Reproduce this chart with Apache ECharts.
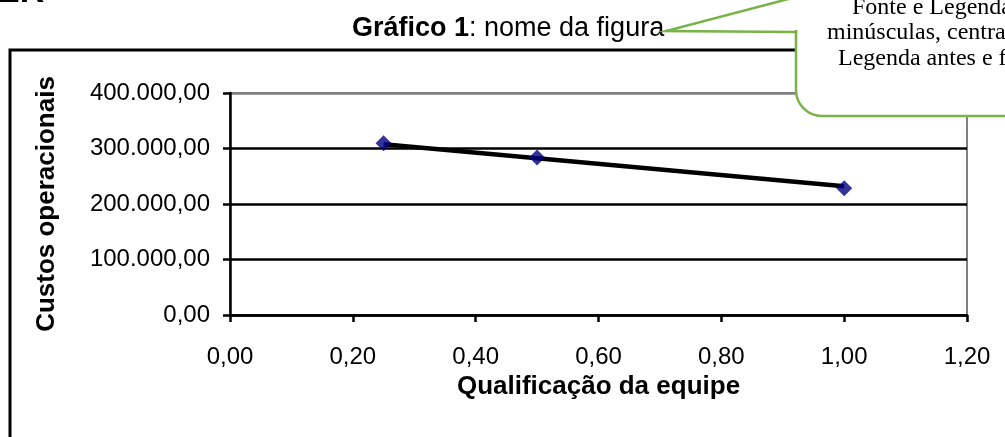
<!DOCTYPE html>
<html>
<head>
<meta charset="utf-8">
<script src="https://cdn.jsdelivr.net/npm/echarts@6/dist/echarts.min.js"></script>
<style>
html,body{margin:0;padding:0;background:#fff;}
#c{width:1005px;height:437px;}
</style>
</head>
<body>
<div id="c"></div>
<script>
// Data
const qualificacao = [0.25, 0.50, 1.00];
const custos = [309500, 284000, 228500];
const trendX = [0.25, 1.00];
const trendY = [307500, 232000];
const xTickLabels = ['0,00', '0,20', '0,40', '0,60', '0,80', '1,00', '1,20'];
const yTickLabels = ['0,00', '100.000,00', '200.000,00', '300.000,00', '400.000,00'];
const titleBold = 'Gráfico 1';
const titleRest = ': nome da figura';
const xTitle = 'Qualificação da equipe';
const yTitle = 'Custos operacionais';
const calloutLines = ['Fonte e Legenda', 'minúsculas, centra', 'Legenda antes e f'];

const FONT = '"Liberation Sans", Arial, sans-serif';
const SERIF = '"Liberation Serif", "Times New Roman", serif';
const GREEN = '#77b347';

const chart = echarts.init(document.getElementById('c'), null, {renderer: 'canvas'});
chart.setOption({
  animation: false,
  backgroundColor: '#fff',
  grid: {
    left: 230, right: 38, top: 93, bottom: 122,
    show: true, borderColor: '#808080', borderWidth: 2, backgroundColor: 'transparent'
  },
  xAxis: {
    type: 'value', min: 0, max: 1.2, interval: 0.2,
    name: xTitle, nameLocation: 'middle', nameGap: 48,
    nameTextStyle: {fontFamily: FONT, fontSize: 26, fontWeight: 'bold', color: '#000'},
    axisLine: {show: true, onZero: false, lineStyle: {color: '#000', width: 2.5}},
    axisTick: {show: true, length: 7, lineStyle: {color: '#000', width: 2.5}},
    axisLabel: {
      margin: 30, fontFamily: FONT, fontSize: 24, color: '#000',
      formatter: v => xTickLabels[Math.round(v / 0.2)]
    },
    splitLine: {show: false}
  },
  yAxis: {
    type: 'value', min: 0, max: 400000, interval: 100000,
    name: yTitle, nameLocation: 'middle', nameRotate: 90, nameGap: 170,
    nameTextStyle: {fontFamily: FONT, fontSize: 26, fontWeight: 'bold', color: '#000'},
    axisLine: {show: true, onZero: false, lineStyle: {color: '#000', width: 2.5}},
    axisTick: {show: true, length: 7, lineStyle: {color: '#000', width: 2.5}},
    axisLabel: {
      margin: 20, fontFamily: FONT, fontSize: 24, color: '#000',
      formatter: v => yTickLabels[Math.round(v / 100000)]
    },
    splitLine: {show: true, lineStyle: {color: ['#000', '#000', '#000', '#000', '#808080'], width: 2.5}}
  },
  series: [
    {
      type: 'line', data: trendX.map((x, i) => [x, trendY[i]]),
      showSymbol: false, symbol: 'none', silent: true, z: 3,
      lineStyle: {color: '#000', width: 4.5}
    },
    {
      type: 'scatter', data: qualificacao.map((x, i) => [x, custos[i]]),
      symbol: 'diamond', symbolSize: 16, z: 4,
      itemStyle: {color: '#000080'}
    }
  ],
  graphic: [
    {type: 'rect', z: -10, silent: true,
     shape: {x: 10, y: 50, width: 1200, height: 600},
     style: {fill: 'none', stroke: '#000', lineWidth: 3}},
    {type: 'text', z: 10, silent: true,
     style: {x: -3, y: -7, text: 'ER', font: 'bold 34px ' + FONT, fill: '#000', verticalAlign: 'middle'}},
    {type: 'text', z: 10, silent: true,
     style: {x: 352, y: 29, verticalAlign: 'middle',
       text: '{b|' + titleBold + '}{n|' + titleRest + '}',
       rich: {b: {fontFamily: FONT, fontSize: 27, fontWeight: 'bold', fill: '#000'},
              n: {fontFamily: FONT, fontSize: 27, fill: '#000'}}}},
    {type: 'rect', z: 20, silent: true,
     shape: {x: 796, y: -60, width: 300, height: 176, r: [0, 0, 0, 26]},
     style: {fill: '#fff', stroke: GREEN, lineWidth: 2.5}},
    {type: 'polygon', z: 21, silent: true,
     shape: {points: [[796, -3], [666, 31], [796, 32]]},
     style: {fill: '#fff', stroke: GREEN, lineWidth: 2.5}},
    {type: 'line', z: 22, silent: true,
     shape: {x1: 796, y1: -3, x2: 796, y2: 30},
     style: {stroke: '#fff', lineWidth: 4}},
    {type: 'text', z: 23, silent: true,
     style: {x: 852, y: 8, text: calloutLines[0], font: '24px ' + SERIF, fill: '#000', verticalAlign: 'middle'}},
    {type: 'text', z: 23, silent: true,
     style: {x: 827, y: 33, text: calloutLines[1], font: '24px ' + SERIF, fill: '#000', verticalAlign: 'middle'}},
    {type: 'text', z: 23, silent: true,
     style: {x: 838, y: 59, text: calloutLines[2], font: '24px ' + SERIF, fill: '#000', verticalAlign: 'middle'}}
  ]
});
</script>
</body>
</html>
